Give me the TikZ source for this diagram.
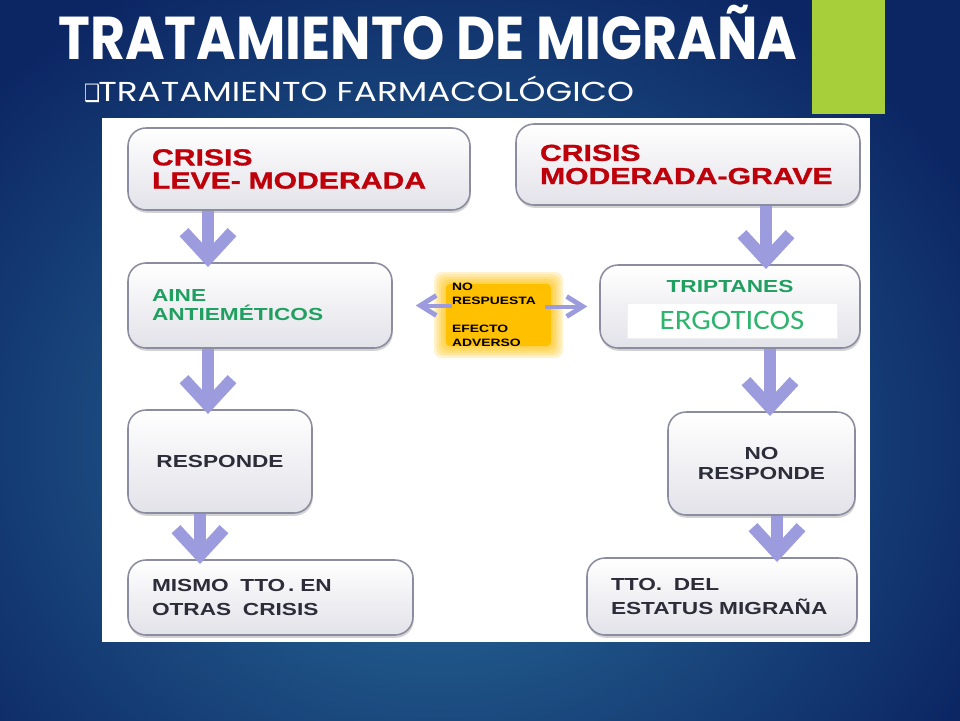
\documentclass[tikz,border=0pt]{standalone}
\usepackage{fontspec}
\usetikzlibrary{arrows.meta,positioning,shadows}

\newfontfamily\chartfont[FakeStretch=1.3]{Liberation Sans}
\newfontfamily\heavyfont[FakeStretch=1.3, BoldFeatures={FakeBold=1.2}]{Liberation Sans}
\newfontfamily\titlefont{Poppins}
\newfontfamily\ergfont[FakeStretch=1.1]{Carlito}
\newfontfamily\symfont{DejaVu Sans}

\definecolor{bgdark}{RGB}{12,38,100}
\definecolor{bglight}{RGB}{44,116,158}
\definecolor{greenbar}{RGB}{166,207,58}
\definecolor{boxline}{RGB}{140,140,160}
\definecolor{boxgray}{RGB}{226,226,233}
\definecolor{redc}{RGB}{190,0,10}
\definecolor{greenc}{RGB}{32,160,96}
\definecolor{ergc}{RGB}{45,181,110}
\definecolor{grayc}{RGB}{45,45,58}
\definecolor{arrowc}{RGB}{155,155,222}
\definecolor{orangec}{RGB}{255,192,0}

\tikzset{
  box/.style={draw=boxline, line width=1.1pt, rounded corners=0.45cm,
    top color=white, bottom color=boxgray,
    drop shadow={opacity=0.35, shadow xshift=0.02cm, shadow yshift=-0.07cm},
    inner xsep=0.6cm, align=left},
  redtxt/.style={text=redc, font=\heavyfont\bfseries\fontsize{16.5}{16.5}\selectfont},
  greentxt/.style={text=greenc, font=\chartfont\bfseries\fontsize{12.4}{13.5}\selectfont},
  graytxt/.style={text=grayc, font=\chartfont\bfseries\fontsize{12.4}{17}\selectfont},
  flow/.style={draw=arrowc, line width=0.3cm, shorten >=-0.12cm,
    -{Straight Barb[length=0.65cm, width=1.2cm, line width=0.3cm]}},
  sideflow/.style={draw=arrowc, line width=0.1cm, shorten <=-0.3cm,
    -{Straight Barb[length=0.4cm, width=0.5cm, line width=0.12cm]}},
}

\begin{document}
\begin{tikzpicture}
      \useasboundingbox (0,0) rectangle (24,18);
%      \draw [help lines] (0,0) grid (24,18);
      \begin{scope}
        \clip (0,0) rectangle (24,18);
        \shade [inner color=bglight, outer color=bgdark] (-4,-6) rectangle (26,20);
      \end{scope}
      \fill [greenbar] (20.3,18) rectangle (22.125,15.15);
      \node [anchor=base west, inner sep=0, text=white, xscale=0.89,
        font=\titlefont\bfseries\fontsize{43}{43}\selectfont] (title) at (1.45,16.5) {TRATAMIENTO DE MIGRAÑA};
      \node [anchor=base west, inner sep=0, text=white, xscale=0.75,
        font=\symfont\fontsize{17}{17}\selectfont] (bullet) at (2.1,15.45) {❑};
      \node [anchor=base west, inner sep=0, text=white, xscale=1.25,
        font=\titlefont\fontsize{19.5}{19.5}\selectfont] (sub) at (2.45,15.45) {TRATAMIENTO FARMACOLÓGICO};
      \fill [white] (2.55,1.95) rectangle (21.75,15.05);

      % boxes
      \node [box, redtxt, text width=7.35cm, minimum height=2.05cm] (leve) at (7.475,13.775) {CRISIS\\LEVE- MODERADA};
      \node [box, redtxt, text width=7.4cm, minimum height=2.025cm] (grave) at (17.2,13.8875) {CRISIS\\MODERADA-GRAVE};
      \node [box, greentxt, text width=5.4cm, minimum height=2.125cm] (aine) at (6.5,10.3625) {AINE\\ANTIEMÉTICOS};
      \node [box, minimum width=6.5cm, minimum height=2.075cm] (trip) at (18.25,10.3375) {};
      \node [greentxt, below=0.28cm of trip.north] (triptxt) {TRIPTANES};
      \node [fill=white, draw=gray!12, minimum width=5.25cm, minimum height=0.875cm, text=ergc,
        font=\ergfont\fontsize{20}{20}\selectfont] (ergo) at (18.3,9.9875) {ERGOTICOS};
      \node [box, graytxt, align=center, text width=3.4cm, minimum height=2.575cm] (resp) at (5.5,6.4625) {RESPONDE};
      \node [box, graytxt, align=center, text width=3.475cm, minimum height=2.575cm,
        font=\chartfont\bfseries\fontsize{12.4}{14.5}\selectfont] (noresp) at (19.0375,6.4125) {NO\\RESPONDE};
      \node [box, graytxt, text width=5.925cm, minimum height=1.875cm] (mismo) at (6.7625,3.0625) {MISMO\ \ TTO\,. EN\\OTRAS\ \ CRISIS};
      \node [box, graytxt, text width=5.55cm, minimum height=1.925cm] (estatus) at (18.05,3.0875) {TTO.\ \ DEL\\ESTATUS MIGRAÑA};

      % no respuesta / efecto adverso
      \foreach \g in {0.3,0.24,...,0.06} \fill [orangec, opacity=0.2, rounded corners=0.2cm] (11.15-\g,9.35-\g) rectangle (13.775+\g,10.9+\g);
      \fill [orangec, rounded corners=0.1cm] (11.15,9.35) rectangle (13.775,10.9);
      \node [align=left, text width=2.325cm, inner xsep=0.3cm, minimum width=2.925cm, minimum height=1.85cm,
        font=\chartfont\bfseries\fontsize{7.6}{10}\selectfont] (ob) at (12.4625,10.125) {NO\\RESPUESTA\\[10pt]EFECTO\\ADVERSO};

      % arrows
      \coordinate (x1) at (5.2,0);
      \coordinate (x2) at (19.15,0);
      \coordinate (x3) at (5.2,0);
      \coordinate (x4) at (19.25,0);
      \coordinate (x5) at (5.0,0);
      \coordinate (x6) at (19.425,0);
      \draw [flow] (leve.south -| x1) -- (aine.north -| x1);
      \draw [flow] (grave.south -| x2) -- (trip.north -| x2);
      \draw [flow] (aine.south -| x3) -- (resp.north -| x3);
      \draw [flow] (trip.south -| x4) -- (noresp.north -| x4);
      \draw [flow] (resp.south -| x5) -- (mismo.north -| x5);
      \draw [flow] (noresp.south -| x6) -- (estatus.north -| x6);
      \draw [sideflow, shorten >=0.575cm] (ob.west |- aine.east) -- (aine.east);
      \draw [sideflow, shorten >=0.3cm] (ob.east |- trip.west) -- (trip.west);
\end{tikzpicture}
\end{document}
